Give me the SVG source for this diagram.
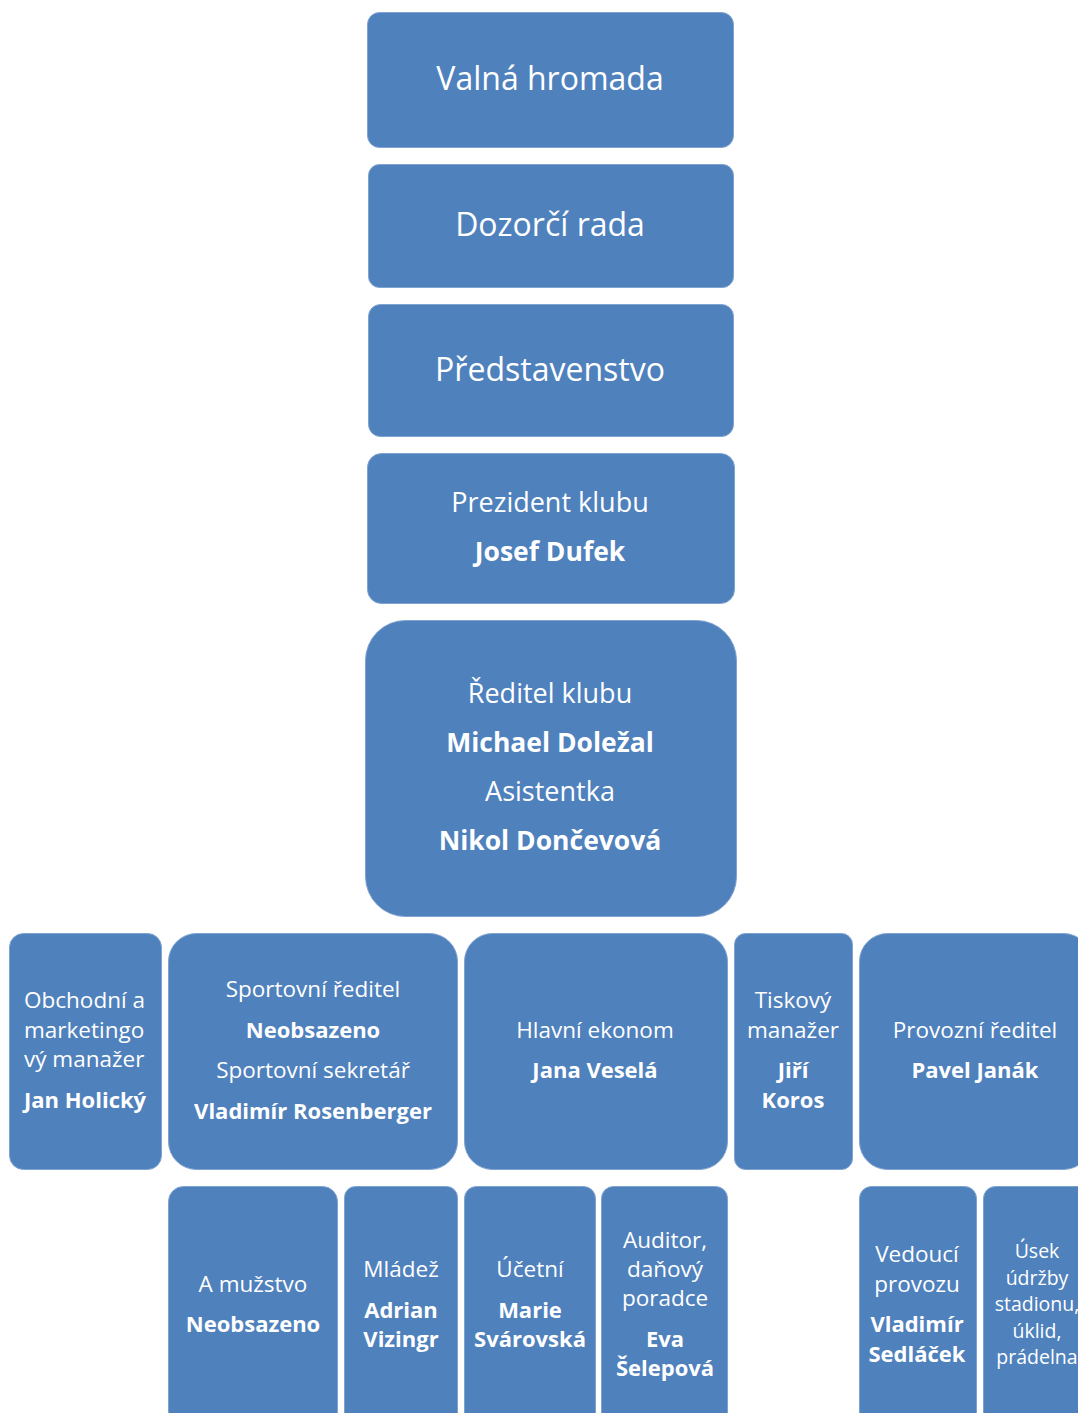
<svg xmlns="http://www.w3.org/2000/svg" width="1078" height="1413" viewBox="0 0 1078 1413">
<style>
.b{fill:#4F81BD;stroke:#7FA3D0;stroke-width:1}
text{fill:#fff;font-family:"Open Sans","Noto Sans","Liberation Sans",sans-serif;text-anchor:middle}
.t1{font-size:32px}
.t2{font-size:27px}
.t2.bo{font-size:26.5px}
.t3{font-size:22.5px}
.t3.bo{font-size:22px}
.t4{font-size:19.5px}
.bo{font-weight:bold}
.l{text-anchor:start}
</style>
<rect width="1078" height="1413" fill="#fff"/>
<g id="connectors"></g>
<g id="valna"><rect class="b" x="367.5" y="12.5" width="366" height="135" rx="12"/><text class="t1" x="550" y="90">Valná hromada</text></g>
<g id="dozorci"><rect class="b" x="368.5" y="164.5" width="365" height="123" rx="11"/><text class="t1" x="550" y="236">Dozorčí rada</text></g>
<g id="predstavenstvo"><rect class="b" x="368.5" y="304.5" width="365" height="132" rx="12"/><text class="t1" x="550" y="381">Představenstvo</text></g>
<g id="prezident"><rect class="b" x="367.5" y="453.5" width="367" height="150" rx="14"/><text class="t2" x="550" y="512">Prezident klubu</text><text class="t2 bo" x="550" y="561">Josef Dufek</text></g>
<g id="reditel"><rect class="b" x="365.5" y="620.5" width="371" height="296" rx="40"/><text class="t2" x="550" y="703">Ředitel klubu</text><text class="t2 bo" x="550" y="752">Michael Doležal</text><text class="t2" x="550" y="801">Asistentka</text><text class="t2 bo" x="550" y="850">Nikol Dončevová</text></g>
<g id="obchodni"><rect class="b" x="9.5" y="933.5" width="152" height="236" rx="14"/><text class="t3 l" x="24" y="1008">Obchodní a</text><text class="t3 l" x="24" y="1038">marketingo</text><text class="t3 l" x="24" y="1067">vý manažer</text><text class="t3 bo l" x="24" y="1108">Jan Holický</text></g>
<g id="sportovni"><rect class="b" x="168.5" y="933.5" width="289" height="236" rx="28"/><text class="t3" x="313" y="997">Sportovní ředitel</text><text class="t3 bo" x="313" y="1038">Neobsazeno</text><text class="t3" x="313" y="1078">Sportovní sekretář</text><text class="t3 bo" x="313" y="1119">Vladimír Rosenberger</text></g>
<g id="ekonom"><rect class="b" x="464.5" y="933.5" width="263" height="236" rx="28"/><text class="t3" x="595" y="1038">Hlavní ekonom</text><text class="t3 bo" x="595" y="1078">Jana Veselá</text></g>
<g id="tiskovy"><rect class="b" x="734.5" y="933.5" width="118" height="236" rx="11"/><text class="t3" x="793" y="1008">Tiskový</text><text class="t3" x="793" y="1038">manažer</text><text class="t3 bo" x="793" y="1078">Jiří</text><text class="t3 bo" x="793" y="1108">Koros</text></g>
<g id="provozni"><rect class="b" x="859.5" y="933.5" width="232" height="236" rx="28"/><text class="t3" x="975" y="1038">Provozní ředitel</text><text class="t3 bo" x="975" y="1078">Pavel Janák</text></g>
<g id="mustvo"><rect class="b" x="168.5" y="1186.5" width="169" height="240" rx="15"/><text class="t3" x="253" y="1292">A mužstvo</text><text class="t3 bo" x="253" y="1332">Neobsazeno</text></g>
<g id="mladez"><rect class="b" x="344.5" y="1186.5" width="113" height="240" rx="11"/><text class="t3" x="401" y="1277">Mládež</text><text class="t3 bo" x="401" y="1318">Adrian</text><text class="t3 bo" x="401" y="1347">Vizingr</text></g>
<g id="ucetni"><rect class="b" x="464.5" y="1186.5" width="131" height="240" rx="12"/><text class="t3" x="530" y="1277">Účetní</text><text class="t3 bo" x="530" y="1318">Marie</text><text class="t3 bo" x="530" y="1347">Svárovská</text></g>
<g id="auditor"><rect class="b" x="601.5" y="1186.5" width="126" height="240" rx="12"/><text class="t3" x="665" y="1248">Auditor,</text><text class="t3" x="665" y="1277">daňový</text><text class="t3" x="665" y="1306">poradce</text><text class="t3 bo" x="665" y="1347">Eva</text><text class="t3 bo" x="665" y="1376">Šelepová</text></g>
<g id="vedouci"><rect class="b" x="859.5" y="1186.5" width="117" height="240" rx="12"/><text class="t3" x="917" y="1262">Vedoucí</text><text class="t3" x="917" y="1292">provozu</text><text class="t3 bo" x="917" y="1332">Vladimír</text><text class="t3 bo" x="917" y="1362">Sedláček</text></g>
<g id="usek"><rect class="b" x="983.5" y="1186.5" width="110" height="240" rx="12"/><text class="t4" x="1037" y="1258">Úsek</text><text class="t4" x="1037" y="1285">údržby</text><text class="t4" x="1037" y="1311">stadionu,</text><text class="t4" x="1037" y="1338">úklid,</text><text class="t4" x="1037" y="1364">prádelna</text></g>
</svg>
